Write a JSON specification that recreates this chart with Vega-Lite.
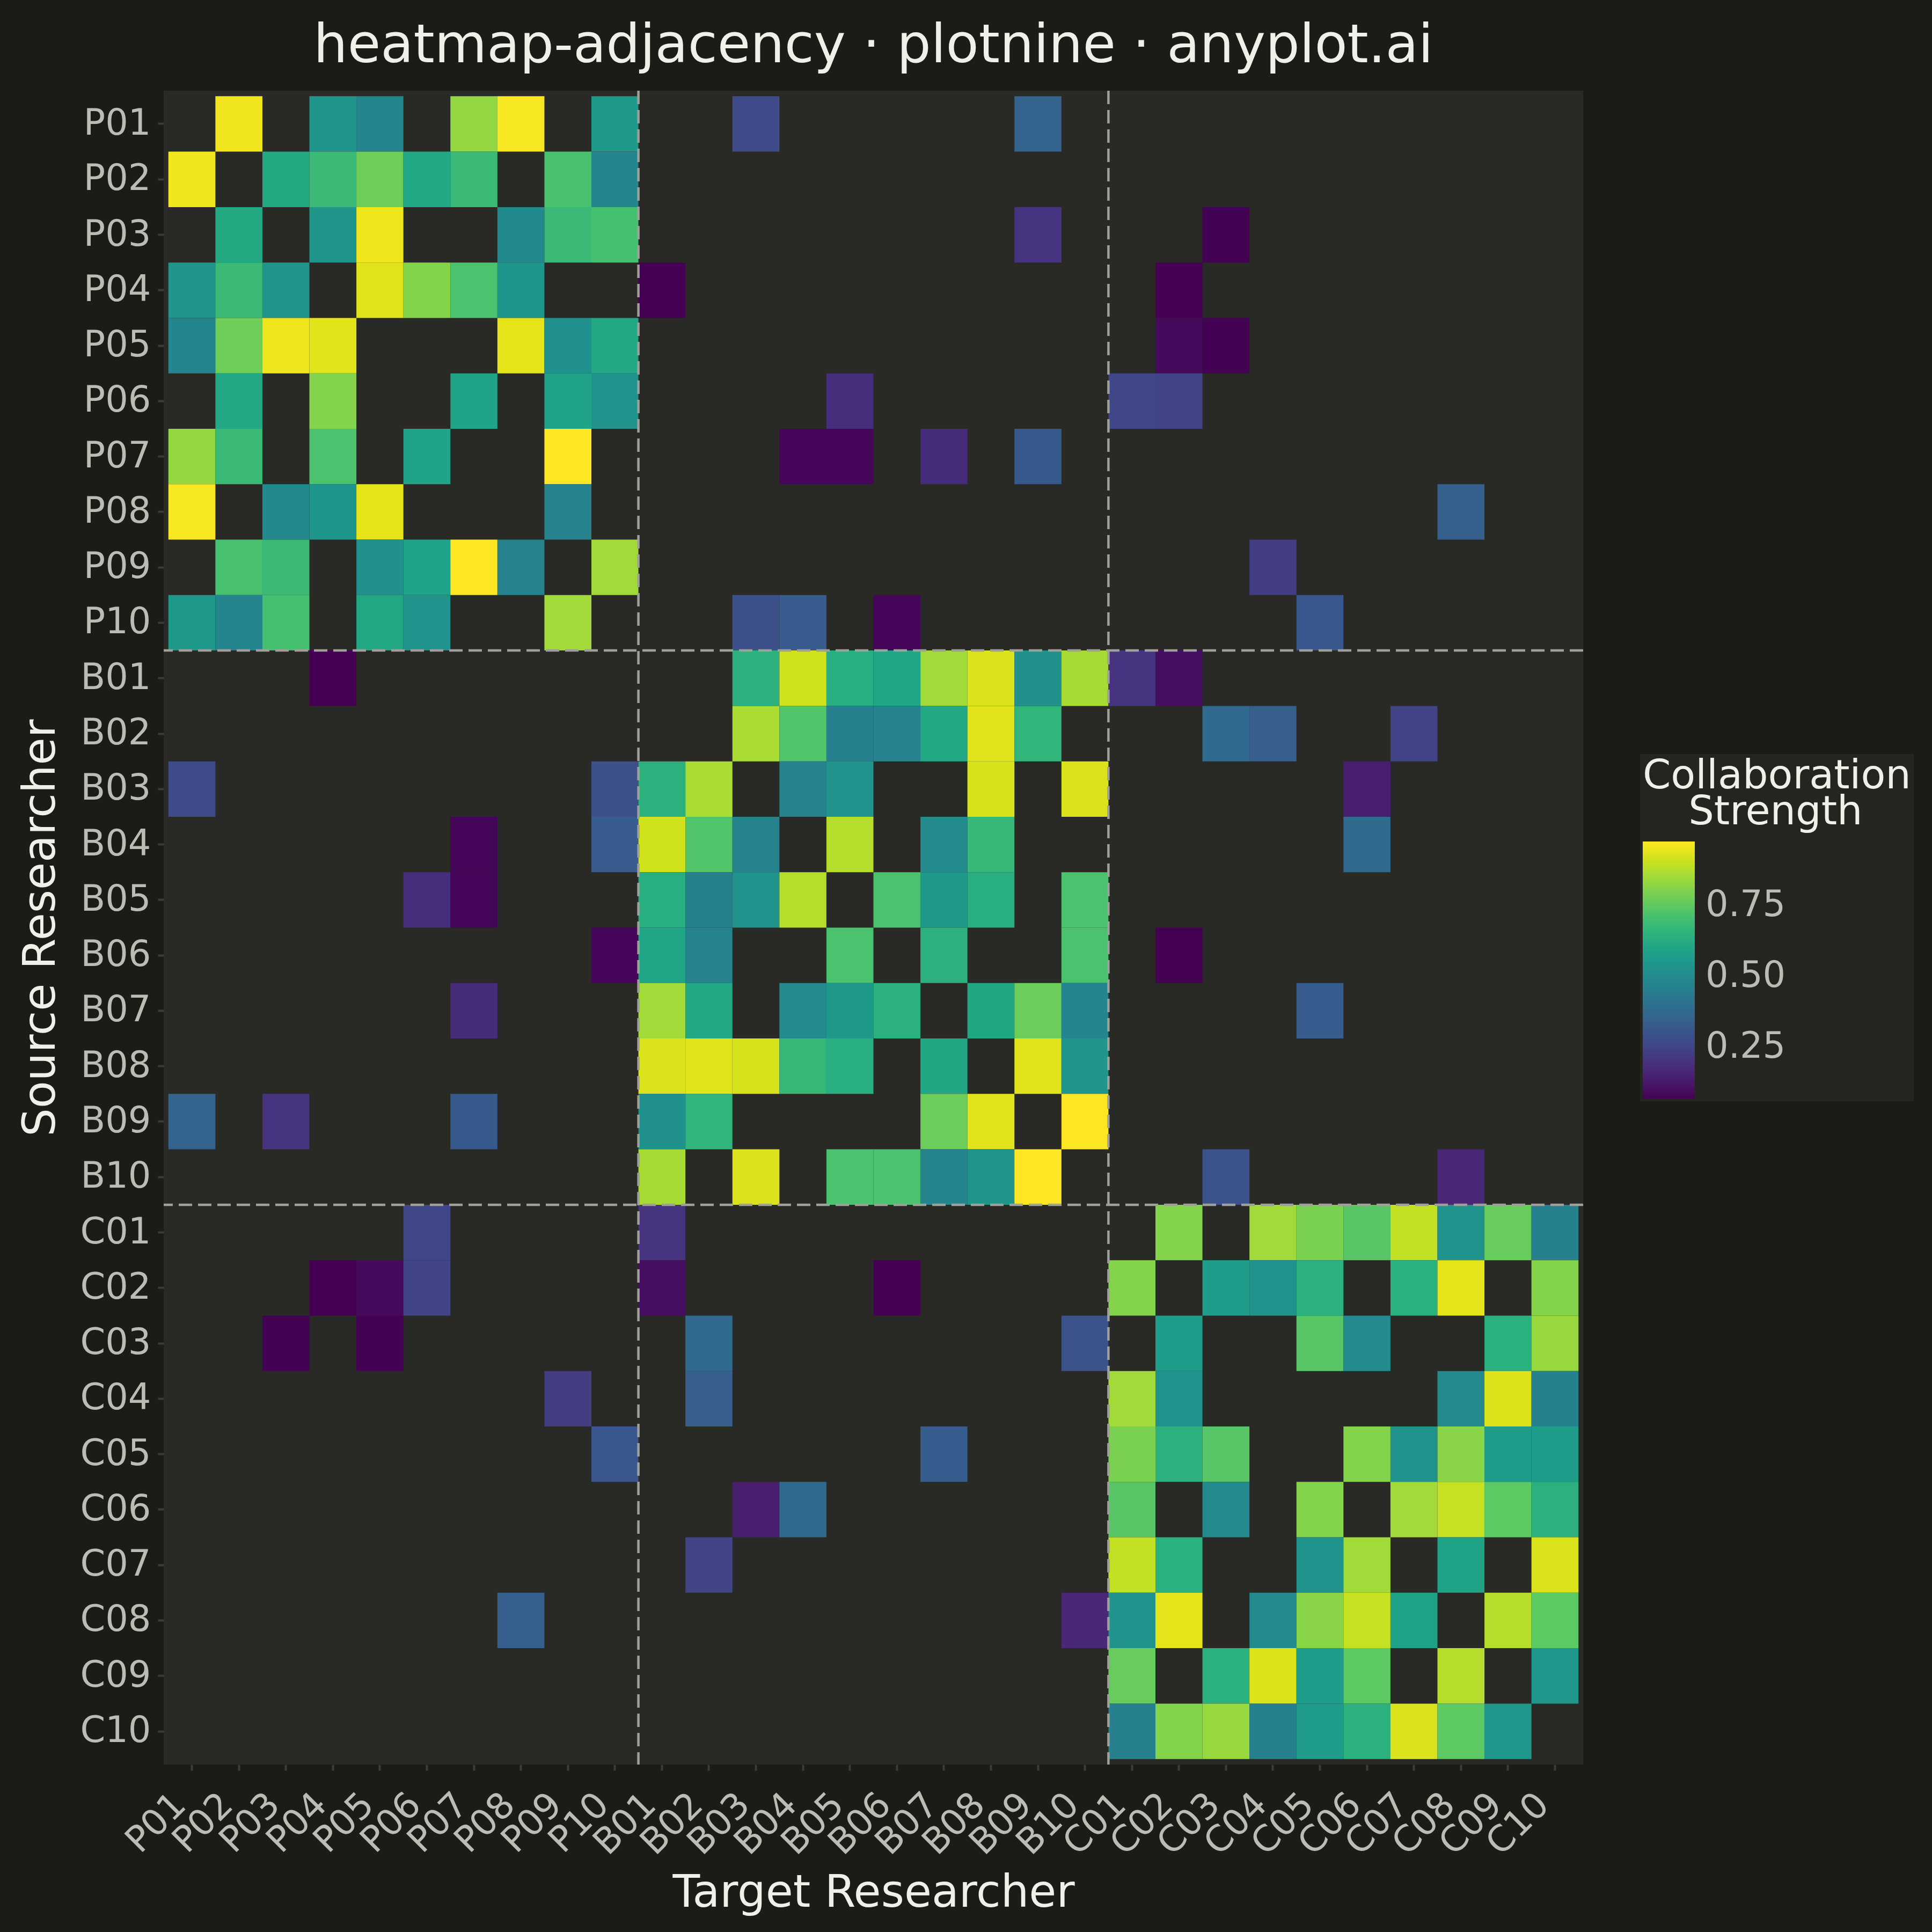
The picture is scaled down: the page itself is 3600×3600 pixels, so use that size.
{
  "$schema": "https://vega.github.io/schema/vega-lite/v6.json",
  "description": "Researcher collaboration adjacency heatmap",
  "width": 2645,
  "height": 3119,
  "autosize": {"type": "none"},
  "padding": {"left": 305, "top": 169, "right": 650, "bottom": 312},
  "background": "#1b1b18",
  "title": {
    "text": "heatmap-adjacency · plotnine · anyplot.ai",
    "font": "DejaVu Sans",
    "fontSize": 100,
    "fontWeight": "normal",
    "color": "#f0efe8",
    "anchor": "middle",
    "frame": "group",
    "offset": 30
  },
  "datasets": {
    "links": [
      {"source": "P01", "target": "P02", "strength": 0.958}, {"source": "P02", "target": "P01", "strength": 0.958},
      {"source": "P01", "target": "P04", "strength": 0.54}, {"source": "P04", "target": "P01", "strength": 0.54},
      {"source": "P01", "target": "P05", "strength": 0.477}, {"source": "P05", "target": "P01", "strength": 0.477},
      {"source": "P01", "target": "P07", "strength": 0.83}, {"source": "P07", "target": "P01", "strength": 0.83},
      {"source": "P01", "target": "P08", "strength": 0.967}, {"source": "P08", "target": "P01", "strength": 0.967},
      {"source": "P01", "target": "P10", "strength": 0.558}, {"source": "P10", "target": "P01", "strength": 0.558},
      {"source": "P02", "target": "P03", "strength": 0.62}, {"source": "P03", "target": "P02", "strength": 0.62},
      {"source": "P02", "target": "P04", "strength": 0.685}, {"source": "P04", "target": "P02", "strength": 0.685},
      {"source": "P02", "target": "P05", "strength": 0.776}, {"source": "P05", "target": "P02", "strength": 0.776},
      {"source": "P02", "target": "P06", "strength": 0.613}, {"source": "P06", "target": "P02", "strength": 0.613},
      {"source": "P02", "target": "P07", "strength": 0.685}, {"source": "P07", "target": "P02", "strength": 0.685},
      {"source": "P02", "target": "P09", "strength": 0.713}, {"source": "P09", "target": "P02", "strength": 0.713},
      {"source": "P02", "target": "P10", "strength": 0.477}, {"source": "P10", "target": "P02", "strength": 0.477},
      {"source": "P03", "target": "P04", "strength": 0.54}, {"source": "P04", "target": "P03", "strength": 0.54},
      {"source": "P03", "target": "P05", "strength": 0.953}, {"source": "P05", "target": "P03", "strength": 0.953},
      {"source": "P03", "target": "P08", "strength": 0.5}, {"source": "P08", "target": "P03", "strength": 0.5},
      {"source": "P03", "target": "P09", "strength": 0.685}, {"source": "P09", "target": "P03", "strength": 0.685},
      {"source": "P03", "target": "P10", "strength": 0.708}, {"source": "P10", "target": "P03", "strength": 0.708},
      {"source": "P04", "target": "P05", "strength": 0.935}, {"source": "P05", "target": "P04", "strength": 0.935},
      {"source": "P04", "target": "P06", "strength": 0.808}, {"source": "P06", "target": "P04", "strength": 0.808},
      {"source": "P04", "target": "P07", "strength": 0.717}, {"source": "P07", "target": "P04", "strength": 0.717},
      {"source": "P04", "target": "P08", "strength": 0.545}, {"source": "P08", "target": "P04", "strength": 0.545},
      {"source": "P05", "target": "P08", "strength": 0.94}, {"source": "P08", "target": "P05", "strength": 0.94},
      {"source": "P05", "target": "P09", "strength": 0.522}, {"source": "P09", "target": "P05", "strength": 0.522},
      {"source": "P05", "target": "P10", "strength": 0.613}, {"source": "P10", "target": "P05", "strength": 0.613},
      {"source": "P06", "target": "P07", "strength": 0.595}, {"source": "P07", "target": "P06", "strength": 0.595},
      {"source": "P06", "target": "P09", "strength": 0.595}, {"source": "P09", "target": "P06", "strength": 0.595},
      {"source": "P06", "target": "P10", "strength": 0.531}, {"source": "P10", "target": "P06", "strength": 0.531},
      {"source": "P07", "target": "P09", "strength": 0.976}, {"source": "P09", "target": "P07", "strength": 0.976},
      {"source": "P08", "target": "P09", "strength": 0.468}, {"source": "P09", "target": "P08", "strength": 0.468},
      {"source": "P09", "target": "P10", "strength": 0.849}, {"source": "P10", "target": "P09", "strength": 0.849},

      {"source": "P01", "target": "B03", "strength": 0.268}, {"source": "B03", "target": "P01", "strength": 0.268},
      {"source": "P01", "target": "B09", "strength": 0.35}, {"source": "B09", "target": "P01", "strength": 0.35},
      {"source": "P03", "target": "B09", "strength": 0.204}, {"source": "B09", "target": "P03", "strength": 0.204},
      {"source": "P03", "target": "C03", "strength": 0.07}, {"source": "C03", "target": "P03", "strength": 0.07},
      {"source": "P04", "target": "B01", "strength": 0.068}, {"source": "B01", "target": "P04", "strength": 0.068},
      {"source": "P04", "target": "C02", "strength": 0.068}, {"source": "C02", "target": "P04", "strength": 0.068},
      {"source": "P05", "target": "C02", "strength": 0.086}, {"source": "C02", "target": "P05", "strength": 0.086},
      {"source": "P05", "target": "C03", "strength": 0.07}, {"source": "C03", "target": "P05", "strength": 0.07},
      {"source": "P06", "target": "B05", "strength": 0.186}, {"source": "B05", "target": "P06", "strength": 0.186},
      {"source": "P06", "target": "C01", "strength": 0.259}, {"source": "C01", "target": "P06", "strength": 0.259},
      {"source": "P06", "target": "C02", "strength": 0.25}, {"source": "C02", "target": "P06", "strength": 0.25},
      {"source": "P07", "target": "B04", "strength": 0.077}, {"source": "B04", "target": "P07", "strength": 0.077},
      {"source": "P07", "target": "B05", "strength": 0.077}, {"source": "B05", "target": "P07", "strength": 0.077},
      {"source": "P07", "target": "B07", "strength": 0.18}, {"source": "B07", "target": "P07", "strength": 0.18},
      {"source": "P07", "target": "B09", "strength": 0.322}, {"source": "B09", "target": "P07", "strength": 0.322},
      {"source": "P08", "target": "C08", "strength": 0.34}, {"source": "C08", "target": "P08", "strength": 0.34},
      {"source": "P09", "target": "C04", "strength": 0.23}, {"source": "C04", "target": "P09", "strength": 0.23},
      {"source": "P10", "target": "B03", "strength": 0.286}, {"source": "B03", "target": "P10", "strength": 0.286},
      {"source": "P10", "target": "B04", "strength": 0.327}, {"source": "B04", "target": "P10", "strength": 0.327},
      {"source": "P10", "target": "B06", "strength": 0.077}, {"source": "B06", "target": "P10", "strength": 0.077},
      {"source": "P10", "target": "C05", "strength": 0.313}, {"source": "C05", "target": "P10", "strength": 0.313},

      {"source": "B01", "target": "B03", "strength": 0.649}, {"source": "B03", "target": "B01", "strength": 0.649},
      {"source": "B01", "target": "B04", "strength": 0.912}, {"source": "B04", "target": "B01", "strength": 0.912},
      {"source": "B01", "target": "B05", "strength": 0.635}, {"source": "B05", "target": "B01", "strength": 0.635},
      {"source": "B01", "target": "B06", "strength": 0.604}, {"source": "B06", "target": "B01", "strength": 0.604},
      {"source": "B01", "target": "B07", "strength": 0.849}, {"source": "B07", "target": "B01", "strength": 0.849},
      {"source": "B01", "target": "B08", "strength": 0.926}, {"source": "B08", "target": "B01", "strength": 0.926},
      {"source": "B01", "target": "B09", "strength": 0.522}, {"source": "B09", "target": "B01", "strength": 0.522},
      {"source": "B01", "target": "B10", "strength": 0.858}, {"source": "B10", "target": "B01", "strength": 0.858},
      {"source": "B02", "target": "B03", "strength": 0.862}, {"source": "B03", "target": "B02", "strength": 0.862},
      {"source": "B02", "target": "B04", "strength": 0.73}, {"source": "B04", "target": "B02", "strength": 0.73},
      {"source": "B02", "target": "B05", "strength": 0.458}, {"source": "B05", "target": "B02", "strength": 0.458},
      {"source": "B02", "target": "B06", "strength": 0.468}, {"source": "B06", "target": "B02", "strength": 0.468},
      {"source": "B02", "target": "B07", "strength": 0.613}, {"source": "B07", "target": "B02", "strength": 0.613},
      {"source": "B02", "target": "B08", "strength": 0.935}, {"source": "B08", "target": "B02", "strength": 0.935},
      {"source": "B02", "target": "B09", "strength": 0.663}, {"source": "B09", "target": "B02", "strength": 0.663},
      {"source": "B03", "target": "B04", "strength": 0.468}, {"source": "B04", "target": "B03", "strength": 0.468},
      {"source": "B03", "target": "B05", "strength": 0.536}, {"source": "B05", "target": "B03", "strength": 0.536},
      {"source": "B03", "target": "B08", "strength": 0.921}, {"source": "B08", "target": "B03", "strength": 0.921},
      {"source": "B03", "target": "B10", "strength": 0.926}, {"source": "B10", "target": "B03", "strength": 0.926},
      {"source": "B04", "target": "B05", "strength": 0.876}, {"source": "B05", "target": "B04", "strength": 0.876},
      {"source": "B04", "target": "B07", "strength": 0.499}, {"source": "B07", "target": "B04", "strength": 0.499},
      {"source": "B04", "target": "B08", "strength": 0.676}, {"source": "B08", "target": "B04", "strength": 0.676},
      {"source": "B05", "target": "B06", "strength": 0.717}, {"source": "B06", "target": "B05", "strength": 0.717},
      {"source": "B05", "target": "B07", "strength": 0.558}, {"source": "B07", "target": "B05", "strength": 0.558},
      {"source": "B05", "target": "B08", "strength": 0.635}, {"source": "B08", "target": "B05", "strength": 0.635},
      {"source": "B05", "target": "B10", "strength": 0.717}, {"source": "B10", "target": "B05", "strength": 0.717},
      {"source": "B06", "target": "B07", "strength": 0.649}, {"source": "B07", "target": "B06", "strength": 0.649},
      {"source": "B06", "target": "B10", "strength": 0.717}, {"source": "B10", "target": "B06", "strength": 0.717},
      {"source": "B07", "target": "B08", "strength": 0.608}, {"source": "B08", "target": "B07", "strength": 0.608},
      {"source": "B07", "target": "B09", "strength": 0.772}, {"source": "B09", "target": "B07", "strength": 0.772},
      {"source": "B07", "target": "B10", "strength": 0.477}, {"source": "B10", "target": "B07", "strength": 0.477},
      {"source": "B08", "target": "B09", "strength": 0.935}, {"source": "B09", "target": "B08", "strength": 0.935},
      {"source": "B08", "target": "B10", "strength": 0.54}, {"source": "B10", "target": "B08", "strength": 0.54},
      {"source": "B09", "target": "B10", "strength": 0.976}, {"source": "B10", "target": "B09", "strength": 0.976},

      {"source": "B01", "target": "C01", "strength": 0.204}, {"source": "C01", "target": "B01", "strength": 0.204},
      {"source": "B01", "target": "C02", "strength": 0.095}, {"source": "C02", "target": "B01", "strength": 0.095},
      {"source": "B02", "target": "C03", "strength": 0.377}, {"source": "C03", "target": "B02", "strength": 0.377},
      {"source": "B02", "target": "C04", "strength": 0.336}, {"source": "C04", "target": "B02", "strength": 0.336},
      {"source": "B02", "target": "C07", "strength": 0.25}, {"source": "C07", "target": "B02", "strength": 0.25},
      {"source": "B03", "target": "C06", "strength": 0.14}, {"source": "C06", "target": "B03", "strength": 0.14},
      {"source": "B04", "target": "C06", "strength": 0.381}, {"source": "C06", "target": "B04", "strength": 0.381},
      {"source": "B06", "target": "C02", "strength": 0.068}, {"source": "C02", "target": "B06", "strength": 0.068},
      {"source": "B07", "target": "C05", "strength": 0.331}, {"source": "C05", "target": "B07", "strength": 0.331},
      {"source": "B10", "target": "C03", "strength": 0.295}, {"source": "C03", "target": "B10", "strength": 0.295},
      {"source": "B10", "target": "C08", "strength": 0.168}, {"source": "C08", "target": "B10", "strength": 0.168},

      {"source": "C01", "target": "C02", "strength": 0.808}, {"source": "C02", "target": "C01", "strength": 0.808},
      {"source": "C01", "target": "C04", "strength": 0.849}, {"source": "C04", "target": "C01", "strength": 0.849},
      {"source": "C01", "target": "C05", "strength": 0.794}, {"source": "C05", "target": "C01", "strength": 0.794},
      {"source": "C01", "target": "C06", "strength": 0.74}, {"source": "C06", "target": "C01", "strength": 0.74},
      {"source": "C01", "target": "C07", "strength": 0.894}, {"source": "C07", "target": "C01", "strength": 0.894},
      {"source": "C01", "target": "C08", "strength": 0.531}, {"source": "C08", "target": "C01", "strength": 0.531},
      {"source": "C01", "target": "C09", "strength": 0.767}, {"source": "C09", "target": "C01", "strength": 0.767},
      {"source": "C01", "target": "C10", "strength": 0.458}, {"source": "C10", "target": "C01", "strength": 0.458},
      {"source": "C02", "target": "C03", "strength": 0.567}, {"source": "C03", "target": "C02", "strength": 0.567},
      {"source": "C02", "target": "C04", "strength": 0.531}, {"source": "C04", "target": "C02", "strength": 0.531},
      {"source": "C02", "target": "C05", "strength": 0.649}, {"source": "C05", "target": "C02", "strength": 0.649},
      {"source": "C02", "target": "C07", "strength": 0.645}, {"source": "C07", "target": "C02", "strength": 0.645},
      {"source": "C02", "target": "C08", "strength": 0.94}, {"source": "C08", "target": "C02", "strength": 0.94},
      {"source": "C02", "target": "C10", "strength": 0.808}, {"source": "C10", "target": "C02", "strength": 0.808},
      {"source": "C03", "target": "C05", "strength": 0.74}, {"source": "C05", "target": "C03", "strength": 0.74},
      {"source": "C03", "target": "C06", "strength": 0.499}, {"source": "C06", "target": "C03", "strength": 0.499},
      {"source": "C03", "target": "C09", "strength": 0.645}, {"source": "C09", "target": "C03", "strength": 0.645},
      {"source": "C03", "target": "C10", "strength": 0.835}, {"source": "C10", "target": "C03", "strength": 0.835},
      {"source": "C04", "target": "C08", "strength": 0.499}, {"source": "C08", "target": "C04", "strength": 0.499},
      {"source": "C04", "target": "C09", "strength": 0.93}, {"source": "C09", "target": "C04", "strength": 0.93},
      {"source": "C04", "target": "C10", "strength": 0.458}, {"source": "C10", "target": "C04", "strength": 0.458},
      {"source": "C05", "target": "C06", "strength": 0.808}, {"source": "C06", "target": "C05", "strength": 0.808},
      {"source": "C05", "target": "C07", "strength": 0.531}, {"source": "C07", "target": "C05", "strength": 0.531},
      {"source": "C05", "target": "C08", "strength": 0.817}, {"source": "C08", "target": "C05", "strength": 0.817},
      {"source": "C05", "target": "C09", "strength": 0.567}, {"source": "C09", "target": "C05", "strength": 0.567},
      {"source": "C05", "target": "C10", "strength": 0.567}, {"source": "C10", "target": "C05", "strength": 0.567},
      {"source": "C06", "target": "C07", "strength": 0.849}, {"source": "C07", "target": "C06", "strength": 0.849},
      {"source": "C06", "target": "C08", "strength": 0.899}, {"source": "C08", "target": "C06", "strength": 0.899},
      {"source": "C06", "target": "C09", "strength": 0.749}, {"source": "C09", "target": "C06", "strength": 0.749},
      {"source": "C06", "target": "C10", "strength": 0.649}, {"source": "C10", "target": "C06", "strength": 0.649},
      {"source": "C07", "target": "C08", "strength": 0.59}, {"source": "C08", "target": "C07", "strength": 0.59},
      {"source": "C07", "target": "C10", "strength": 0.926}, {"source": "C10", "target": "C07", "strength": 0.926},
      {"source": "C08", "target": "C09", "strength": 0.876}, {"source": "C09", "target": "C08", "strength": 0.876},
      {"source": "C08", "target": "C10", "strength": 0.749}, {"source": "C10", "target": "C08", "strength": 0.749},
      {"source": "C09", "target": "C10", "strength": 0.549}, {"source": "C10", "target": "C09", "strength": 0.549}
    ],
    "groupStartsX": [{"target": "B01"}, {"target": "C01"}],
    "groupStartsY": [{"source": "B01"}, {"source": "C01"}]
  },
  "layer": [
    {
      "data": {"name": "links"},
      "mark": {"type": "rect"},
      "encoding": {
        "x": {
          "field": "target",
          "type": "nominal",
          "title": "Target Researcher",
          "scale": {
            "domain": ["P01","P02","P03","P04","P05","P06","P07","P08","P09","P10","B01","B02","B03","B04","B05","B06","B07","B08","B09","B10","C01","C02","C03","C04","C05","C06","C07","C08","C09","C10"],
            "paddingInner": 0,
            "paddingOuter": 0.1
          },
          "axis": {"labelAngle": -45, "labelAlign": "right", "labelBaseline": "top", "labelPadding": 30, "labelOffset": -45, "titlePadding": 17}
        },
        "y": {
          "field": "source",
          "type": "nominal",
          "title": "Source Researcher",
          "scale": {
            "domain": ["P01","P02","P03","P04","P05","P06","P07","P08","P09","P10","B01","B02","B03","B04","B05","B06","B07","B08","B09","B10","C01","C02","C03","C04","C05","C06","C07","C08","C09","C10"],
            "paddingInner": 0,
            "paddingOuter": 0.1
          },
          "axis": {"labelPadding": 13, "titlePadding": 30}
        },
        "color": {
          "field": "strength",
          "type": "quantitative",
          "scale": {"scheme": "viridis", "domain": [0.068, 0.976]},
          "legend": {
            "title": ["Collaboration", "\u200b\u2002\u00a0\u00a0Strength"],
            "orient": "none",
            "legendX": 2751,
            "legendY": 1236,
            "values": [0.25, 0.5, 0.75],
            "format": ".2f",
            "gradientLength": 479,
            "gradientThickness": 97,
            "gradientStrokeWidth": 0,
            "fillColor": "#242420",
            "padding": 5,
            "titleLimit": 2000,
            "titlePadding": 16,
            "titleLineHeight": 67,
            "labelOffset": 20
          }
        }
      }
    },
    {
      "data": {"name": "groupStartsX"},
      "mark": {"type": "rule", "strokeDash": [25, 11], "strokeWidth": 4.5, "color": "#a0a09a"},
      "encoding": {
        "x": {
          "field": "target",
          "type": "nominal",
          "bandPosition": 0,
          "scale": {
            "domain": ["P01","P02","P03","P04","P05","P06","P07","P08","P09","P10","B01","B02","B03","B04","B05","B06","B07","B08","B09","B10","C01","C02","C03","C04","C05","C06","C07","C08","C09","C10"],
            "paddingInner": 0,
            "paddingOuter": 0.1
          }
        }
      }
    },
    {
      "data": {"name": "groupStartsY"},
      "mark": {"type": "rule", "strokeDash": [25, 11], "strokeWidth": 4.5, "color": "#a0a09a"},
      "encoding": {
        "y": {
          "field": "source",
          "type": "nominal",
          "bandPosition": 0,
          "scale": {
            "domain": ["P01","P02","P03","P04","P05","P06","P07","P08","P09","P10","B01","B02","B03","B04","B05","B06","B07","B08","B09","B10","C01","C02","C03","C04","C05","C06","C07","C08","C09","C10"],
            "paddingInner": 0,
            "paddingOuter": 0.1
          }
        }
      }
    }
  ],
  "config": {
    "font": "DejaVu Sans",
    "view": {"fill": "#292925", "stroke": null},
    "axis": {
      "grid": false,
      "domain": false,
      "labelFont": "DejaVu Sans",
      "labelFontSize": 67,
      "labelColor": "#bcbcb4",
      "labelOverlap": false,
      "titleFont": "DejaVu Sans",
      "titleFontSize": 83,
      "titleFontWeight": "normal",
      "titleColor": "#f0efe8",
      "tickColor": "#3b3b37",
      "tickSize": 11,
      "tickWidth": 4
    },
    "legend": {
      "labelFont": "DejaVu Sans",
      "labelFontSize": 67,
      "labelColor": "#bcbcb4",
      "titleFont": "DejaVu Sans",
      "titleFontSize": 75,
      "titleFontWeight": "normal",
      "titleColor": "#f0efe8",
      "labelOverlap": false
    }
  }
}
